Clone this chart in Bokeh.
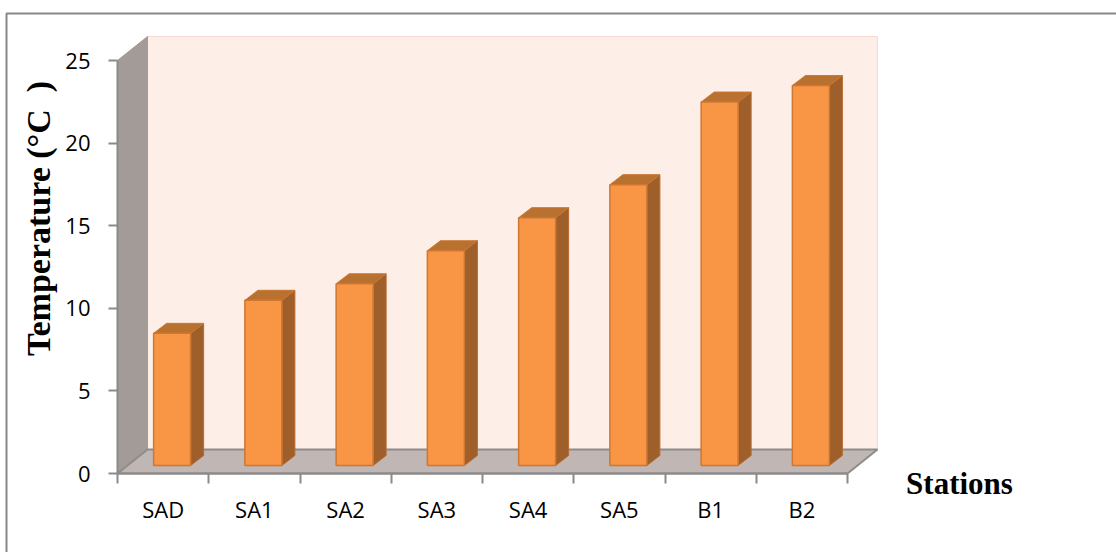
import math
from bokeh.plotting import figure
from bokeh.models import (Range1d, FixedTicker, CustomJSTickFormatter, Label, BoxAnnotation)
from bokeh.embed import file_html
from bokeh.resources import INLINE

# ---- data ----
stations = ["SAD", "SA1", "SA2", "SA3", "SA4", "SA5", "B1", "B2"]
temperature = [8, 10, 11, 13, 15, 17, 22, 23]
y_ticks = [0, 5, 10, 15, 20, 25]
y_title = "Temperature (\u00b0C\u00a0 )"
x_title = "Stations"

# ---- layout constants (pixels -> data units) ----
W, H = 1116, 552
X0_PX, Y0_PX = 117, 473             # canvas position of the data origin
PX_PER_X = 730 / len(stations)       # px per category
PX_PER_Y = 413 / 25                  # px per degree
px_x = lambda px: px / PX_PER_X
px_y = lambda px: px / PX_PER_Y
cx = lambda px: px_x(px - X0_PX)     # canvas px -> data x
cy = lambda px: px_y(Y0_PX - px)     # canvas px -> data y

p = figure(width=W, height=H, output_backend="svg", toolbar_location=None,
           min_border=0,
           x_range=Range1d(cx(0), cx(W)), y_range=Range1d(cy(H), cy(0)))
p.outline_line_color = None
p.background_fill_color = "white"
p.border_fill_color = "white"
p.xgrid.visible = False
p.ygrid.visible = False

n = len(stations)
dxw, dyw = px_x(30), px_y(24)       # wall depth offset
ymax = y_ticks[-1]

# back wall
p.quad(left=dxw, right=n + dxw, bottom=dyw, top=ymax + dyw,
       fill_color="#FDEEE7", line_color="#F3DDD3", line_width=1)
# left side wall
p.patch([0, dxw, dxw, 0], [0, dyw, ymax + dyw, ymax],
        fill_color="#A39B98", line_color="#A39B98", line_width=1)
# floor
p.patch([0, n, n + dxw, dxw], [0, 0, dyw, dyw],
        fill_color="#C0B6B3", line_color="#8C8C8C", line_width=2)

# bars
b0 = px_y(8)
off, hw = px_x(9), px_x(18.5)
dxb, dyb = px_x(13), px_y(10)
fl, fr, fb, ft = [], [], [], []
side_xs, side_ys, top_xs, top_ys = [], [], [], []
for i, v in enumerate(temperature):
    c = i + 0.5 + off
    L, R, T = c - hw, c + hw, b0 + v
    fl.append(L); fr.append(R); fb.append(b0); ft.append(T)
    side_xs.append([R, R + dxb, R + dxb, R])
    side_ys.append([b0, b0 + dyb, T + dyb, T])
    top_xs.append([L, R, R + dxb, L + dxb])
    top_ys.append([T, T, T + dyb, T + dyb])

p.patches(side_xs, side_ys, fill_color="#9E5F2B", line_color="#B86A2E", line_width=1)
p.patches(top_xs, top_ys, fill_color="#B9712F", line_color="#C97733", line_width=1)
p.quad(left=fl, right=fr, bottom=fb, top=ft, fill_color="#F99646",
       line_color="#CF7633", line_width=1.5)

# axes (fixed at the data origin)
ax_col = "#8A8A8A"
yax = p.yaxis[0]
yax.fixed_location = 0
yax.bounds = (0, ymax)
yax.ticker = FixedTicker(ticks=y_ticks)
yax.major_tick_out = 9
yax.major_tick_in = 0
yax.minor_tick_out = 0
yax.minor_tick_in = 0
yax.axis_line_color = ax_col
yax.axis_line_width = 2
yax.major_tick_line_color = ax_col
yax.major_tick_line_width = 2
yax.major_label_text_font = "Open Sans"
yax.major_label_text_font_size = "22px"
yax.major_label_text_color = "black"
yax.major_label_standoff = 18

xax = p.xaxis[0]
xax.fixed_location = 0
xax.bounds = (0, n)
xax.ticker = FixedTicker(ticks=[i + 0.5 for i in range(n)], minor_ticks=list(range(n + 1)))
xax.formatter = CustomJSTickFormatter(args=dict(labels=stations),
                                      code="return labels[Math.floor(tick)];")
xax.major_tick_out = 0
xax.major_tick_in = 0
xax.minor_tick_out = 10
xax.minor_tick_in = 0
xax.axis_line_color = ax_col
xax.axis_line_width = 2
xax.minor_tick_line_color = ax_col
xax.minor_tick_line_width = 2
xax.major_label_text_font = "Open Sans"
xax.major_label_text_font_size = "22px"
xax.major_label_text_color = "black"
xax.major_label_standoff = 10

# titles
p.add_layout(Label(x=cx(38), y=cy(218), text=y_title, angle=math.pi / 2,
                   text_align="center", text_baseline="middle", text_font="Liberation Serif",
                   text_font_style="bold", text_font_size="34px", text_color="black"))
p.add_layout(Label(x=cx(959), y=cy(483), text=x_title,
                   text_align="center", text_baseline="middle", text_font="Liberation Serif",
                   text_font_style="bold", text_font_size="31px", text_color="black"))

# outer chart border
p.add_layout(BoxAnnotation(left=6, right=1200, top=13, bottom=700,
                           left_units="canvas", right_units="canvas",
                           top_units="canvas", bottom_units="canvas",
                           fill_alpha=0, line_color="#888888", line_alpha=1.0, line_width=2))

open("out.html", "w").write(file_html(p, INLINE))
